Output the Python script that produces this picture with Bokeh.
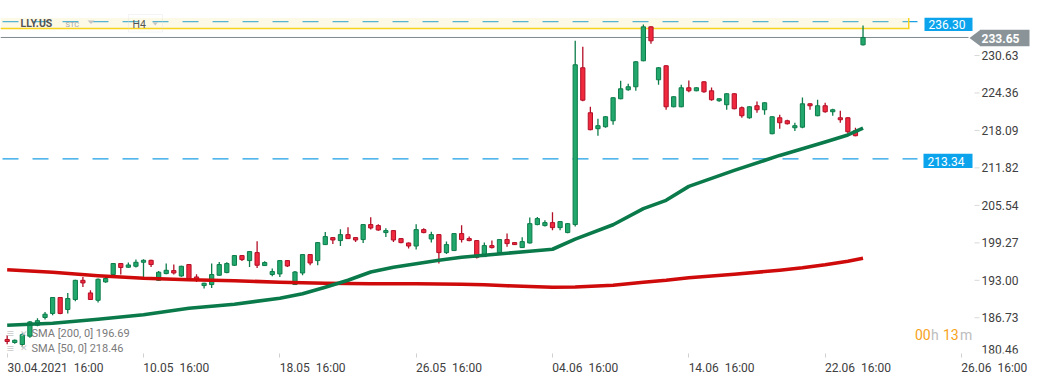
from bokeh.plotting import figure
from bokeh.models import (ColumnDataSource, Range1d, FixedTicker, CustomJSTickFormatter,
                          PrintfTickFormatter, Label, BoxAnnotation, PolyAnnotation)
from bokeh.embed import file_html
from bokeh.resources import INLINE

# ---------------- data (H4 bars, LLY.US) ----------------
bar_open = [183.10, 182.59, 182.26, 183.65, 185.49, 186.78, 187.45, 190.12, 188.11, 189.79,
            193.00, 190.89, 189.66, 192.73, 193.97, 195.81, 195.19, 195.35, 196.02, 196.35,
            193.00, 194.13, 194.63, 193.73, 195.64, 193.56, 192.12, 192.29, 193.85, 194.30,
            195.52, 197.14, 196.30, 197.64, 195.47, 193.97, 194.07, 196.30, 192.29, 194.23,
            197.31, 196.30, 198.98, 200.15, 199.65, 200.65, 200.15, 199.82, 202.33, 202.16,
            200.99, 201.32, 199.98, 199.25, 198.74, 201.49, 199.92, 200.65, 197.64, 197.98,
            200.82, 199.98, 199.65, 196.97, 198.81, 197.64, 199.82, 199.31, 198.48, 199.25,
            202.33, 202.16, 202.66, 201.82, 200.99, 202.33, 228.58, 221.05, 218.38, 218.71,
            219.71, 223.39, 224.90, 225.40, 229.75, 235.43, 226.57, 228.91, 222.05, 222.05,
            225.23, 224.73, 226.23, 224.73, 223.06, 222.39, 224.23, 221.89, 220.21, 222.22,
            221.55, 217.54, 220.21, 219.71, 218.54, 218.64, 222.55, 220.55, 222.22, 221.22,
            220.21, 220.21, 218.04, 232.42]
bar_high = [183.82, 183.10, 184.15, 186.21, 186.66, 187.71, 190.20, 190.20, 190.89, 193.10,
            193.56, 191.33, 193.30, 193.68, 195.90, 195.90, 195.97, 196.47, 196.52, 196.45,
            194.57, 195.81, 195.64, 195.45, 195.75, 194.01, 192.60, 195.81, 196.07, 196.02,
            197.25, 197.25, 197.90, 199.53, 196.19, 194.97, 196.40, 196.40, 194.57, 197.40,
            197.40, 199.40, 201.09, 200.25, 201.54, 201.87, 200.25, 202.40, 203.55, 202.38,
            201.71, 201.42, 200.08, 199.35, 202.38, 201.71, 201.15, 200.75, 199.48, 200.92,
            202.21, 200.32, 199.75, 199.31, 199.65, 199.92, 200.82, 199.40, 200.20, 203.50,
            203.60, 203.04, 204.38, 202.93, 202.60, 233.09, 232.08, 222.05, 220.05, 220.50,
            223.65, 226.40, 225.90, 229.70, 235.82, 235.55, 228.70, 229.00, 223.83, 225.73,
            226.45, 225.33, 226.33, 225.28, 223.49, 224.33, 224.33, 222.10, 222.15, 222.94,
            222.82, 220.48, 220.72, 219.88, 219.38, 223.61, 222.65, 223.23, 222.72, 221.72,
            221.39, 220.31, 218.54, 235.65]
bar_low = [182.31, 182.40, 181.81, 183.40, 185.30, 186.45, 187.16, 187.30, 187.45, 189.50,
           191.89, 189.70, 189.28, 192.60, 193.90, 193.97, 195.10, 195.14, 193.45, 195.24,
           192.90, 194.00, 193.97, 193.60, 193.20, 192.73, 191.62, 191.72, 193.75, 194.20,
           195.40, 196.24, 195.24, 195.07, 195.40, 193.68, 193.56, 195.24, 192.20, 193.85,
           195.52, 195.52, 198.90, 199.08, 198.74, 199.90, 199.41, 199.25, 201.49, 201.30,
           200.25, 199.41, 199.20, 198.31, 198.14, 200.90, 199.31, 195.81, 197.41, 197.90,
           199.31, 199.55, 196.64, 196.90, 198.31, 197.55, 198.64, 198.90, 198.40, 199.15,
           202.20, 202.00, 201.37, 201.37, 200.90, 202.00, 222.99, 218.10, 217.20, 218.54,
           219.05, 223.30, 224.73, 224.73, 229.65, 232.59, 225.73, 221.55, 221.95, 221.95,
           224.50, 224.63, 224.39, 223.06, 222.89, 221.55, 221.62, 220.21, 220.05, 221.05,
           220.72, 217.44, 218.38, 219.10, 217.98, 218.47, 221.55, 220.45, 221.05, 220.55,
           219.38, 217.54, 217.10, 232.32]
bar_close = [182.76, 182.97, 183.90, 186.04, 186.24, 187.33, 190.12, 187.45, 189.95, 193.00,
             192.56, 189.79, 193.18, 193.30, 195.81, 195.14, 195.57, 196.02, 196.35, 195.64,
             194.35, 194.68, 194.23, 195.35, 193.30, 193.06, 192.51, 193.97, 195.64, 195.81,
             197.14, 196.47, 197.81, 195.52, 195.97, 194.47, 196.30, 195.40, 194.40, 197.31,
             195.90, 199.31, 200.32, 199.75, 200.65, 199.98, 199.75, 202.33, 201.76, 201.42,
             201.32, 199.75, 199.31, 198.74, 201.49, 200.99, 200.65, 197.64, 198.98, 200.82,
             199.82, 199.65, 196.85, 198.81, 198.48, 199.82, 199.15, 198.98, 199.48, 202.49,
             203.33, 202.66, 201.82, 202.83, 202.49, 229.08, 223.16, 218.21, 218.88, 220.38,
             223.56, 225.06, 225.40, 229.58, 235.43, 233.09, 228.58, 222.05, 223.73, 225.23,
             224.73, 225.23, 224.56, 223.23, 223.39, 224.23, 221.72, 220.55, 222.05, 221.55,
             222.72, 220.38, 219.38, 219.21, 218.88, 222.55, 222.22, 222.22, 221.22, 221.55,
             219.88, 217.87, 217.20, 233.65]

sma_idx = [0, 6, 12, 18, 24, 30, 36, 39, 42, 45, 48, 51, 54, 57, 60, 63, 66, 69, 72, 75,
           80, 84, 87, 90, 96, 102, 105, 108, 111, 113]
sma50 = [185.49, 185.82, 186.49, 187.25, 188.33, 189.00, 190.00, 190.76, 191.84, 193.01,
         194.40, 195.19, 195.77, 196.36, 196.86, 197.19, 197.53, 197.86, 198.20, 199.90,
         202.30, 205.00, 206.39, 208.73, 211.40, 213.91, 215.03, 216.17, 217.34, 218.46]
sma200 = [194.77, 194.35, 193.77, 193.35, 193.10, 192.93, 192.68, 192.60, 192.51, 192.46,
          192.43, 192.43, 192.43, 192.38, 192.34, 192.26, 192.09, 191.96, 191.84, 191.88,
          192.18, 192.68, 193.01, 193.43, 194.02, 194.69, 195.10, 195.60, 196.19, 196.69]

x_tick_idx = [0, 18, 36, 54, 72, 90, 108, 126]
x_tick_labels = ["30.04.2021\u00a0\u00a016:00", "10.05\u00a0\u00a016:00", "18.05\u00a0\u00a016:00",
                 "26.05\u00a0\u00a016:00", "04.06\u00a0\u00a016:00", "14.06\u00a0\u00a016:00",
                 "22.06\u00a0\u00a016:00", "26.06\u00a0\u00a016:00"]
y_ticks = [180.46, 186.73, 193.00, 199.27, 205.54, 211.82, 218.09, 224.36, 230.63]

level_alert = 236.30
level_last = 233.65
level_dash = 213.34
legend_texts = ["SMA [200, 0] 196.69", "SMA [50, 0] 218.46"]
symbol, mode, interval = "LLY.US", "STC", "H4"
timer_parts = ["00", "h", "13", "m"]

# ---------------- layout ----------------
FONT = "Roboto"
W, H = 1041, 380
FRAME_H = 353
X0, DX = 6.67, 7.574            # pixel of bar 0, pixels per bar
X_START = -X0 / DX
X_END = (W - X0) / DX


def bx(px):                     # screen x (px) -> bar coordinate
    return (px - X0) / DX


def sy(py):                     # y from top -> screen units from frame bottom
    return FRAME_H - py


p = figure(width=W, height=H, output_backend="svg", toolbar_location=None,
           x_range=Range1d(X_START, X_END), y_range=Range1d(180.75, 239.84),
           y_axis_location="right", min_border_left=0, min_border_top=0,
           min_border_right=0, min_border_bottom=H - FRAME_H,
           background_fill_color="white", border_fill_color="white")
p.outline_line_color = None
p.grid.visible = False

# ---- price levels (under the candles) ----
dash_end = bx(917)
for lvl in (level_alert, level_dash):
    r = p.segment(x0=[X_START], y0=[lvl], x1=[dash_end], y1=[lvl], line_color="#1a9fe3",
                  line_width=1.2, line_dash="16 14", line_dash_offset=28)
    r.level = "underlay"
r = p.segment(x0=[X_START], y0=[level_last], x1=[bx(968)], y1=[level_last],
              line_color="#7f898e", line_width=1)
r.level = "underlay"

p.add_layout(BoxAnnotation(left=0, right=908, top=sy(17.5), bottom=sy(28),
                           left_units="screen", right_units="screen",
                           top_units="screen", bottom_units="screen",
                           fill_color="#f3eba6", fill_alpha=0.27, line_color=None, level="underlay"))
p.add_layout(BoxAnnotation(left=0, right=909, top=sy(27.2), bottom=sy(28.8),
                           left_units="screen", right_units="screen",
                           top_units="screen", bottom_units="screen",
                           fill_color="#f8d31c", fill_alpha=1, line_color=None, level="underlay"))
p.add_layout(BoxAnnotation(left=907.5, right=909, top=sy(17.5), bottom=sy(28),
                           left_units="screen", right_units="screen",
                           top_units="screen", bottom_units="screen",
                           fill_color="#f8d31c", fill_alpha=1, line_color=None, level="underlay"))

# ---- candles ----
n = len(bar_open)
up = [c >= o for o, c in zip(bar_open, bar_close)]
src = ColumnDataSource(dict(
    x=list(range(n)),
    top=[max(o, c) for o, c in zip(bar_open, bar_close)],
    bottom=[min(o, c) for o, c in zip(bar_open, bar_close)],
    high=bar_high, low=bar_low,
    fill=["#22a86c" if u else "#f0293e" for u in up],
    line=["#0d7c4a" if u else "#b30f27" for u in up],
))
p.segment(x0="x", y0="high", x1="x", y1="low", line_color="line", line_width=1.3, source=src)
p.vbar(x="x", width=0.56, top="top", bottom="bottom", fill_color="fill",
       line_color="line", line_width=1, source=src)

# ---- moving averages ----
p.line(sma_idx, sma200, line_color="#cf0a0a", line_width=3.6, line_join="round")
p.line(sma_idx, sma50, line_color="#0a7a4b", line_width=3.6, line_join="round")

# ---- right price axis (labels drawn just left of the canvas edge) ----
p.yaxis.ticker = FixedTicker(ticks=y_ticks)
p.yaxis.formatter = PrintfTickFormatter(format="%.2f")
p.yaxis.axis_line_color = None
p.yaxis.major_tick_line_color = None
p.yaxis.major_tick_out = 0
p.yaxis.major_tick_in = 0
p.yaxis.minor_tick_line_color = None
p.yaxis.major_label_standoff = 981 - W
p.yaxis.major_label_text_font = FONT
p.yaxis.major_label_text_font_size = "12px"
p.yaxis.major_label_text_color = "#404040"

in_range = [t for t in y_ticks if t > 180.75]
p.segment(x0=[bx(974)] * len(in_range), y0=in_range, x1=[bx(979)] * len(in_range),
          y1=in_range, line_color="#d9d9d9", line_width=1)
p.add_layout(Label(x=981, y=sy(349), x_units="screen", y_units="screen",
                   text=f"{y_ticks[0]:.2f}", text_align="left", text_baseline="middle",
                   text_font=FONT, text_font_size="12px", text_color="#404040"))

# ---- time axis ----
shifts = [6.38] + [4.33] * 7
p.xaxis.ticker = FixedTicker(ticks=[t + s for t, s in zip(x_tick_idx, shifts)],
                             minor_ticks=x_tick_idx)
p.xaxis.formatter = CustomJSTickFormatter(args=dict(labels=x_tick_labels),
                                          code="return labels[index]")
p.xaxis.axis_line_color = None
p.xaxis.major_tick_line_color = None
p.xaxis.major_tick_out = 0
p.xaxis.major_tick_in = 0
p.xaxis.minor_tick_line_color = "#d0d0d0"
p.xaxis.minor_tick_out = 4
p.xaxis.minor_tick_in = 0
p.xaxis.major_label_standoff = 3
p.xaxis.major_label_text_font = FONT
p.xaxis.major_label_text_font_size = "12px"
p.xaxis.major_label_text_color = "#404040"


def box(l, r, t, b, color, alpha=1.0, line=None):
    p.add_layout(BoxAnnotation(left=l, right=r, top=sy(t), bottom=sy(b),
                               left_units="screen", right_units="screen",
                               top_units="screen", bottom_units="screen",
                               fill_color=color, fill_alpha=alpha, line_color=line))


def lab(text, x, y, size, color, style="normal"):
    p.add_layout(Label(x=x, y=sy(y), x_units="screen", y_units="screen", text=text,
                       text_align="left", text_baseline="middle", text_font=FONT,
                       text_font_size=size, text_color=color, text_font_style=style))


def tri(xs, ys, color):
    p.add_layout(PolyAnnotation(xs=xs, ys=[sy(v) for v in ys], xs_units="screen",
                                ys_units="screen", fill_color=color, fill_alpha=1,
                                line_color=None))


# ---- price tags ----
box(924, 972, 17.3, 30.6, "#0ba4ec")
lab(f"{level_alert:.2f}", 928, 24, "12px", "white")
box(923, 972, 153.3, 167.6, "#0ba4ec")
lab(f"{level_dash:.2f}", 927, 160.5, "12px", "white")
tri([969, 980, 980], [37.5, 29.3, 45.7], "#8a9498")
box(979.5, 1029, 29.3, 45.7, "#8a9498")
lab(f"{level_last:.2f}", 981, 37.5, "12px", "white", "bold")

# ---- header ----
lab(symbol, 20, 23.3, "10.5px", "#545454", "bold")
lab(mode, 65, 24.2, "7.5px", "#a6a6a6")
tri([87, 94, 90.5], [20, 20, 23.5], "#c4c4c4")
p.add_layout(BoxAnnotation(left=128, right=162, top=sy(14), bottom=sy(31.5),
                           left_units="screen", right_units="screen",
                           top_units="screen", bottom_units="screen",
                           fill_alpha=0, line_color="#dcdcdc", line_width=1))
lab(interval, 132, 23.7, "10.5px", "#555555")
tri([152, 157.5, 154.75], [21.7, 21.7, 25], "#c4c4c4")

# ---- indicator legend ----
for row, txt in zip((333, 347.5), legend_texts):
    lab("\u2261", 6, row, "13px", "#c8c8c8")
    lab("\u2715", 19, row, "9px", "#c8c8c8")
    lab(txt, 31, row, "11px", "#7a7a7a")

# ---- candle timer ----
for txt, x, col in zip(timer_parts, (914.5, 930.5, 942.5, 959.5),
                       ("#f7a21b", "#bdbdbd", "#f7a21b", "#bdbdbd")):
    lab(txt, x, 334, "14px", col)

open("out.html", "w").write(file_html(p, INLINE, title="LLY.US H4"))
